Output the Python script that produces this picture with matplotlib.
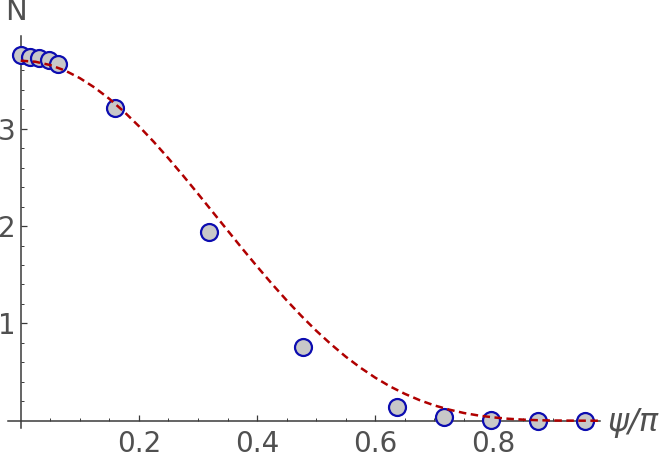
import matplotlib
matplotlib.use("Agg")
import matplotlib.pyplot as plt
from matplotlib.ticker import FixedLocator

# data points (psi/pi, N)
pts_x = [0.0, 0.0159, 0.0318, 0.0477, 0.0637, 0.159, 0.318, 0.477, 0.637, 0.716, 0.796, 0.875, 0.955]
pts_y = [3.758, 3.743, 3.728, 3.707, 3.666, 3.217, 1.943, 0.761, 0.144, 0.041, 0.007, 0.001, 0.0]

# dashed curve samples
curve_x = [0.0, 0.025, 0.05, 0.075, 0.1, 0.125, 0.15, 0.175, 0.2, 0.225, 0.25, 0.275,
           0.3, 0.325, 0.35, 0.375, 0.4, 0.425, 0.45, 0.475, 0.5, 0.525, 0.55, 0.575,
           0.6, 0.625, 0.65, 0.675, 0.7, 0.725, 0.75, 0.775, 0.8, 0.825, 0.85, 0.875,
           0.9, 0.925, 0.95, 0.977]
curve_y = [3.700, 3.689, 3.655, 3.599, 3.521, 3.424, 3.308, 3.175, 3.027, 2.867, 2.696, 2.517,
           2.332, 2.144, 1.956, 1.768, 1.585, 1.407, 1.237, 1.076, 0.925, 0.786, 0.658, 0.544,
           0.442, 0.352, 0.276, 0.211, 0.157, 0.114, 0.079, 0.053, 0.034, 0.020, 0.011, 0.005,
           0.002, 0.001, 0.000, 0.000]

x_ticks = [0.2, 0.4, 0.6, 0.8]
x_ticklabels = ["0.2", "0.4", "0.6", "0.8"]
y_ticks = [1, 2, 3]
y_ticklabels = ["1", "2", "3"]

W, H = 664, 453
fig = plt.figure(figsize=(W / 100, H / 100), dpi=100)
ax = fig.add_axes([0, 0, 1, 1])

x0px, xs = 20.7, 591.0
y0px, ys = 420.7, 97.3
ax.set_xlim(-x0px / xs, (W - x0px) / xs)
ax.set_ylim(-(H - y0px) / ys, y0px / ys)

txtc = "#505050"
axc = "#3a3a3a"

ax.plot(curve_x, curve_y, color="#b00000", lw=1.8, dashes=(3.0, 1.8), zorder=4)
ax.plot(pts_x, pts_y, linestyle="none", marker="o", markersize=12.2,
        markerfacecolor="#c8c8c8", markeredgecolor="#0c0cb0", markeredgewidth=1.6, zorder=3)

for s in ["top", "right"]:
    ax.spines[s].set_visible(False)
ax.spines["bottom"].set_position(("data", 0))
ax.spines["left"].set_position(("data", 0))
ax.spines["bottom"].set_bounds(-0.021, 0.98)
ax.spines["left"].set_bounds(-0.075, 3.954)
for s in ["bottom", "left"]:
    ax.spines[s].set_color(axc)
    ax.spines[s].set_linewidth(1.1)

ax.xaxis.set_major_locator(FixedLocator(x_ticks))
ax.set_xticklabels(x_ticklabels)
ax.xaxis.set_minor_locator(FixedLocator([0.05 * i for i in range(1, 20) if i % 4 != 0]))
ax.yaxis.set_major_locator(FixedLocator(y_ticks))
ax.set_yticklabels(y_ticklabels)
ax.yaxis.set_minor_locator(FixedLocator([0.2 * i for i in range(1, 20) if i % 5 != 0]))

ax.tick_params(axis="x", which="major", direction="in", length=4, width=0.9, color=axc,
               labelsize=20, labelcolor=txtc, pad=7)
ax.tick_params(axis="x", which="minor", direction="in", length=2.5, width=0.7, color=axc)
ax.tick_params(axis="y", which="major", direction="in", length=4, width=0.9, color=axc,
               labelsize=20, labelcolor=txtc, pad=4)
ax.tick_params(axis="y", which="minor", direction="in", length=2.5, width=0.7, color=axc)

ax.patch.set_alpha(0)
fig.text(15.5 / W, 1 - 12 / H, "N", ha="center", va="center", fontsize=21, color=txtc)
fig.text(608 / W, 1 - 423 / H, "ψ/π", ha="left", va="center", fontsize=23,
         color=txtc, fontstyle="italic")

fig.savefig("out.png", dpi=100)
